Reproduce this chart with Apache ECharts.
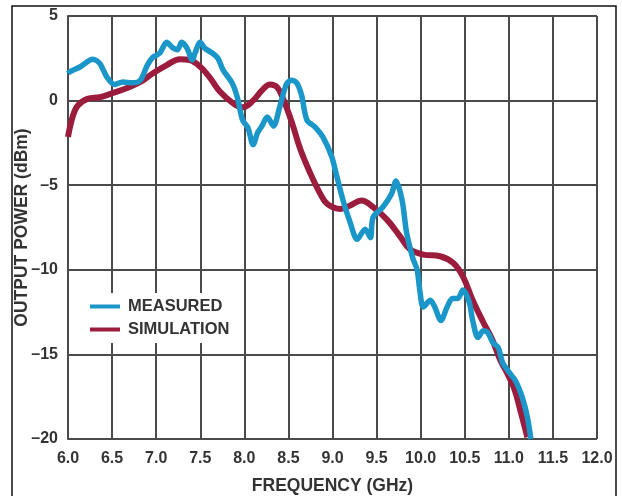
<!DOCTYPE html>
<html>
<head>
<meta charset="utf-8">
<script src="https://cdn.jsdelivr.net/npm/echarts@6/dist/echarts.min.js"></script>
<style>
  html, body { margin: 0; padding: 0; background: #fff; }
  #chart { width: 622px; height: 496px; }
</style>
</head>
<body>
<div id="chart"></div>
<script>
// Output power vs. frequency: measured and simulated
var measuredFreq = [6.00, 6.02, 6.14, 6.28, 6.36, 6.44, 6.53, 6.62, 6.73, 6.82, 6.90, 6.96, 7.04, 7.12, 7.18, 7.24, 7.29, 7.35, 7.41, 7.44, 7.50, 7.55, 7.64, 7.70, 7.76, 7.86, 7.92, 7.98, 8.04, 8.10, 8.15, 8.20, 8.26, 8.33, 8.40, 8.48, 8.54, 8.60, 8.65, 8.71, 8.80, 8.89, 8.99, 9.05, 9.12, 9.20, 9.28, 9.37, 9.43, 9.46, 9.57, 9.67, 9.72, 9.79, 9.84, 9.91, 9.96, 9.99, 10.03, 10.11, 10.16, 10.23, 10.30, 10.36, 10.42, 10.48, 10.55, 10.59, 10.65, 10.71, 10.76, 10.82, 10.88, 10.93, 11.01, 11.08, 11.15, 11.21, 11.25];
var measuredDbm = [1.6, 1.7, 2.0, 2.45, 2.2, 1.4, 0.95, 1.1, 1.05, 1.2, 2.1, 2.55, 2.8, 3.45, 3.15, 3.0, 3.45, 3.1, 2.4, 2.8, 3.45, 3.1, 2.8, 2.5, 1.8, 1.05, 0.2, -1.15, -1.6, -2.6, -1.9, -1.5, -0.97, -1.5, -0.4, 1.0, 1.2, 1.0, 0.3, -1.15, -1.55, -2.15, -3.3, -4.5, -5.9, -7.2, -8.2, -7.6, -8.1, -6.9, -6.3, -5.5, -4.75, -5.9, -7.8, -9.3, -10.0, -11.2, -12.2, -11.8, -12.2, -13.0, -12.2, -11.7, -11.7, -11.2, -11.9, -13.0, -14.0, -13.6, -13.7, -14.3, -14.6, -15.5, -16.1, -16.6, -17.5, -18.7, -20.0];

var simFreq = [6.00, 6.05, 6.11, 6.22, 6.36, 6.51, 6.67, 6.82, 6.96, 7.12, 7.27, 7.38, 7.50, 7.61, 7.72, 7.87, 7.98, 8.10, 8.20, 8.29, 8.37, 8.44, 8.54, 8.63, 8.74, 8.86, 8.94, 9.09, 9.20, 9.33, 9.46, 9.62, 9.77, 9.88, 10.03, 10.22, 10.37, 10.48, 10.59, 10.71, 10.81, 10.90, 10.98, 11.06, 11.13, 11.21];
var simDbm = [-2.15, -1.0, -0.3, 0.1, 0.2, 0.45, 0.75, 1.1, 1.6, 2.1, 2.45, 2.4, 2.0, 1.35, 0.55, -0.15, -0.4, 0.0, 0.6, 0.95, 0.8, 0.1, -1.3, -2.8, -4.2, -5.5, -6.1, -6.4, -6.2, -5.9, -6.3, -7.05, -8.05, -8.8, -9.1, -9.2, -9.6, -10.4, -11.8, -13.1, -14.1, -15.3, -16.1, -17.0, -18.3, -19.9];

var yTicks = { '5': '5', '0': '0', '-5': '–5', '-10': '–10', '-15': '–15', '-20': '–20' };

function pairs(xs, ys) {
  return xs.map(function (x, i) { return [x, ys[i]]; });
}

var FONT = 'Liberation Sans, Arial, sans-serif';
var GRID_COLOR = '#4a4a4a';

var chart = echarts.init(document.getElementById('chart'), null, { renderer: 'canvas' });

chart.setOption({
  backgroundColor: '#fff',
  animation: false,
  graphic: [{
    type: 'rect',
    shape: { x: 12, y: 6, width: 604, height: 492 },
    style: { fill: 'none', stroke: '#111', lineWidth: 1.5 },
    z: -10
  }],
  grid: { left: 68, right: 25, top: 16, bottom: 57, containLabel: false, outerBoundsMode: 'none' },
  xAxis: {
    type: 'value',
    min: 6, max: 12, interval: 0.5,
    name: 'FREQUENCY (GHz)',
    nameLocation: 'middle',
    nameGap: 38,
    nameMoveOverlap: false,
    nameTextStyle: { fontFamily: FONT, fontWeight: 'bold', fontSize: 17.5, color: '#333' },
    axisLine: { show: true, lineStyle: { color: GRID_COLOR, width: 2 } },
    axisTick: { show: false },
    axisLabel: {
      margin: 12,
      fontFamily: FONT, fontWeight: 'bold', fontSize: 16, color: '#333',
      formatter: function (v) { return v.toFixed(1); }
    },
    splitLine: { show: true, lineStyle: { color: GRID_COLOR, width: 2 } }
  },
  yAxis: {
    type: 'value',
    min: -20, max: 5, interval: 5,
    name: 'OUTPUT POWER (dBm)',
    nameLocation: 'middle',
    nameGap: 37,
    nameMoveOverlap: false,
    nameTextStyle: { fontFamily: FONT, fontWeight: 'bold', fontSize: 17.5, color: '#333' },
    axisLine: { show: true, lineStyle: { color: GRID_COLOR, width: 2 } },
    axisTick: { show: false },
    axisLabel: {
      margin: 10,
      fontFamily: FONT, fontWeight: 'bold', fontSize: 16, color: '#333',
      formatter: function (v) { return yTicks[String(v)]; }
    },
    splitLine: { show: true, lineStyle: { color: GRID_COLOR, width: 2 } }
  },
  legend: {
    orient: 'vertical',
    left: 82, top: 293,
    padding: [5, 8, 5, 8],
    backgroundColor: '#fff',
    itemWidth: 30, itemHeight: 4, itemGap: 6,
    icon: 'rect',
    textStyle: { fontFamily: FONT, fontWeight: 'bold', fontSize: 16.5, color: '#333', padding: [0, 0, 0, 3] },
    data: ['MEASURED', 'SIMULATION']
  },
  series: [
    {
      name: 'SIMULATION',
      type: 'line',
      data: pairs(simFreq, simDbm),
      smooth: 0.4,
      showSymbol: false,
      lineStyle: { color: '#9b1c3c', width: 6 },
      itemStyle: { color: '#9b1c3c' },
      z: 3
    },
    {
      name: 'MEASURED',
      type: 'line',
      data: pairs(measuredFreq, measuredDbm),
      smooth: 0.3,
      showSymbol: false,
      lineStyle: { color: '#1a96c9', width: 5.5 },
      itemStyle: { color: '#1a96c9' },
      z: 4
    }
  ]
});
</script>
</body>
</html>
